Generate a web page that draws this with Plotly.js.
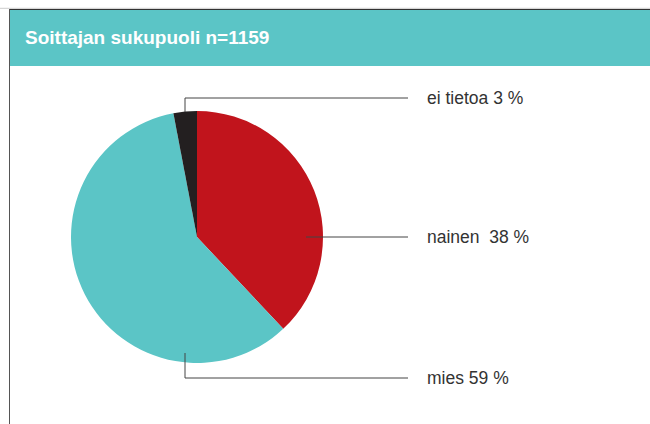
<!DOCTYPE html>
<html>
<head>
<meta charset="utf-8">
<script src="https://cdn.plot.ly/plotly-3.0.1.min.js"></script>
<style>html,body{margin:0;padding:0;background:#fff;}#chart{width:650px;height:424px;}</style>
</head>
<body>
<div id="chart"></div>
<script>
// Data
const categories = ["nainen", "mies", "ei tietoa"];
const values = [38, 59, 3];
const labelTexts = ["nainen  38 %", "mies 59 %", "ei tietoa 3 %"];
const sliceColors = ["#C1141C", "#5BC5C6", "#231F20"];

const W = 650, H = 424;
const px = x => x / W;
const py = y => 1 - y / H;

// pie geometry (pixels)
const cx = 197, cy = 237, R = 126;
const lineColor = "#444";
const labelX = 425, lineEndX = 408;

// connector paths (pixels)
const connectors = [
  [[306, cy], [lineEndX, cy]],                       // nainen
  [[185, 353], [185, 378], [lineEndX, 378]],          // mies
  [[185, 112], [185, 98], [lineEndX, 98]]             // ei tietoa
];
const labelY = [cy, 378, 98];

const shapes = [
  // header band
  {type: "rect", xref: "paper", yref: "paper", x0: px(9), x1: px(650), y0: py(66), y1: py(9.5),
   fillcolor: "#5BC5C6", line: {width: 0}, layer: "below"},
  {type: "line", xref: "paper", yref: "paper", x0: px(9), x1: px(650), y0: py(9.5), y1: py(9.5),
   line: {color: "#333", width: 1}},
  {type: "line", xref: "paper", yref: "paper", x0: px(0), x1: px(650), y0: py(8.3), y1: py(8.3),
   line: {color: "#ccc", width: 1}},
  {type: "line", xref: "paper", yref: "paper", x0: px(9.5), x1: px(9.5), y0: py(9), y1: py(424),
   line: {color: "#555", width: 1}}
];
connectors.forEach(pts => {
  for (let i = 0; i < pts.length - 1; i++) {
    shapes.push({type: "line", xref: "paper", yref: "paper",
      x0: px(pts[i][0]), y0: py(pts[i][1]), x1: px(pts[i+1][0]), y1: py(pts[i+1][1]),
      line: {color: lineColor, width: 1}});
  }
});

const annotations = labelTexts.map((t, i) => ({
  xref: "paper", yref: "paper", x: px(labelX), y: py(labelY[i]),
  xanchor: "left", yanchor: "middle", showarrow: false, text: t,
  font: {family: "Liberation Sans, Arial, sans-serif", size: 17.5, color: "#333"}
}));

const trace = {
  type: "pie",
  labels: categories,
  values: values,
  sort: false,
  direction: "clockwise",
  rotation: 0,
  textinfo: "none",
  hoverinfo: "none",
  marker: {colors: sliceColors, line: {width: 0}},
  domain: {x: [px(cx - R), px(cx + R)], y: [py(cy + R), py(cy - R)]},
  showlegend: false
};

const layout = {
  width: W, height: H,
  margin: {l: 0, r: 0, t: 0, b: 0},
  paper_bgcolor: "#fff",
  title: {
    text: "<b>Soittajan sukupuoli n=1159</b>",
    x: px(25), xanchor: "left", xref: "paper",
    y: py(37.5), yanchor: "middle", yref: "paper",
    font: {family: "Liberation Sans, Arial, sans-serif", size: 19, color: "#fff"}
  },
  shapes: shapes,
  annotations: annotations,
  showlegend: false
};

Plotly.newPlot("chart", [trace], layout, {displayModeBar: false, staticPlot: true});
</script>
</body>
</html>
